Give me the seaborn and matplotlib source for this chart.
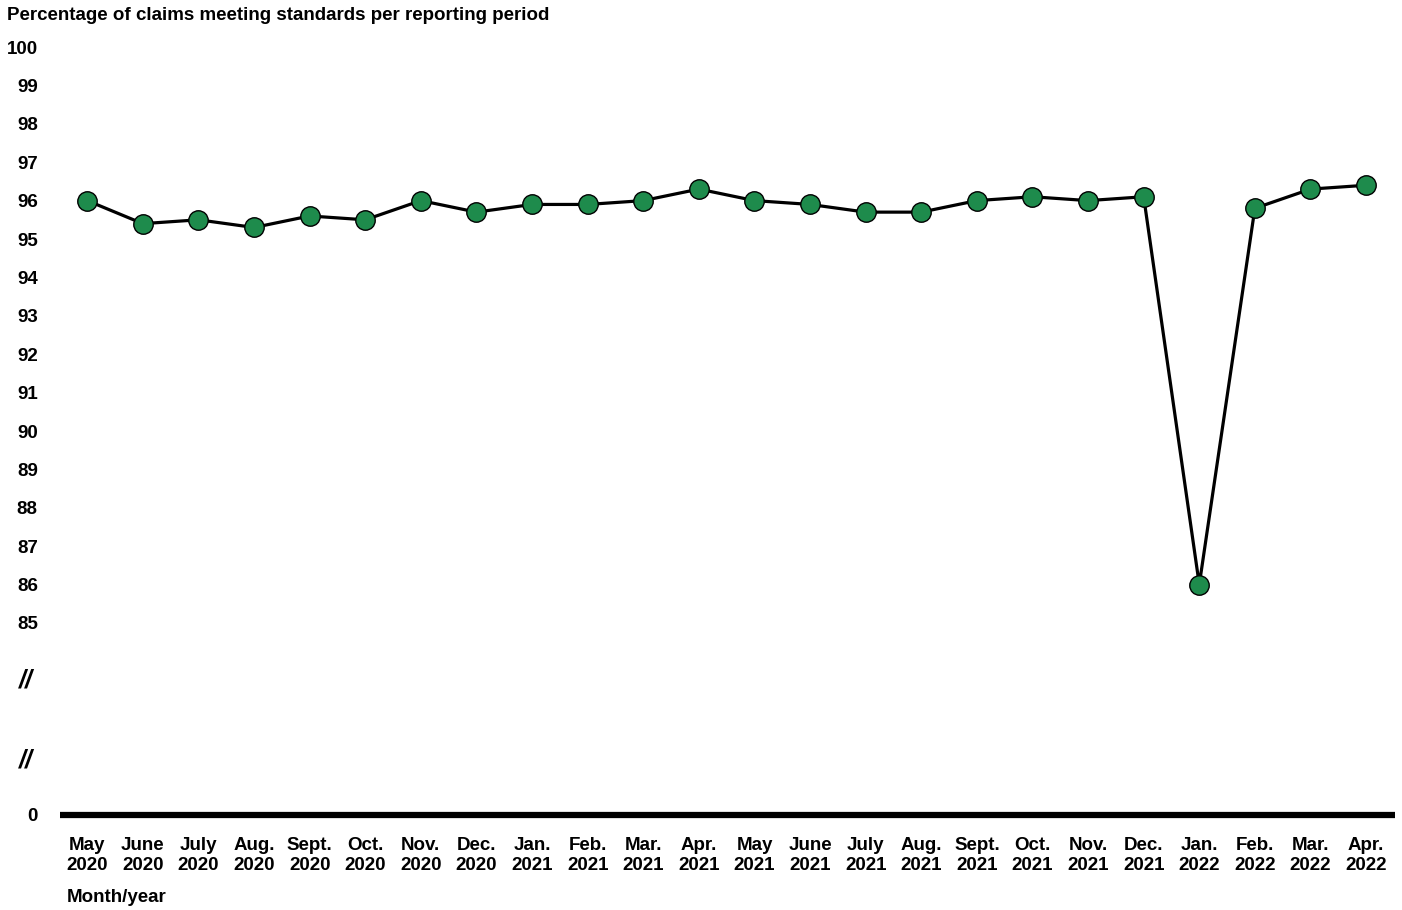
import matplotlib
matplotlib.use("Agg")
import matplotlib.pyplot as plt
import seaborn as sns
import pandas as pd
import numpy as np

months = ["May", "June", "July", "Aug.", "Sept.", "Oct.", "Nov.", "Dec.",
          "Jan.", "Feb.", "Mar.", "Apr.", "May", "June", "July", "Aug.",
          "Sept.", "Oct.", "Nov.", "Dec.", "Jan.", "Feb.", "Mar.", "Apr."]
years = ["2020"] * 8 + ["2021"] * 12 + ["2022"] * 4
pct_meeting = [96.0, 95.4, 95.5, 95.3, 95.6, 95.5, 96.0, 95.7,
               95.9, 95.9, 96.0, 96.3, 96.0, 95.9, 95.7, 95.7,
               96.0, 96.1, 96.0, 96.1, 86.0, 95.8, 96.3, 96.4]
y_ticks = list(range(85, 101))
zero_pos = 80  # broken axis: zero drawn five units below 85

sns.set_theme(style="white")
plt.rcParams["font.family"] = ["Liberation Sans", "DejaVu Sans"]
plt.rcParams["font.weight"] = "bold"
plt.rcParams["xtick.color"] = "black"
plt.rcParams["ytick.color"] = "black"
plt.rcParams["text.color"] = "black"

df = pd.DataFrame({"idx": np.arange(len(pct_meeting)), "pct": pct_meeting})

fig = plt.figure(figsize=(14.02, 9.10), dpi=100)
ax = fig.add_axes([60 / 1402, 0.1044, (1395 - 60) / 1402, 0.8566])

sns.lineplot(data=df, x="idx", y="pct", ax=ax, color="black", linewidth=2.3,
             marker="o", markersize=14, markerfacecolor="#1E8B4C",
             markeredgecolor="black", markeredgewidth=1.0)

ax.set_xlim(-0.49, len(pct_meeting) - 0.48)
ax.set_ylim(zero_pos, 100.3)

ax.set_yticks(y_ticks + [zero_pos])
ax.set_yticklabels([str(v) for v in y_ticks] + ["0"], fontsize=13.5,
                   fontweight="bold", color="black")
ax.set_xticks(df["idx"])
ax.set_xticklabels([f"{m}\n{y}" for m, y in zip(months, years)],
                   fontsize=13.5, fontweight="bold", linespacing=1.25, color="black")
ax.tick_params(axis="y", length=0, pad=16)
ax.tick_params(axis="x", length=0, pad=16)

for side in ["left", "right", "top"]:
    ax.spines[side].set_visible(False)
ax.spines["bottom"].set_color("black")
ax.spines["bottom"].set_linewidth(4.5)
ax.spines["bottom"].set_capstyle("butt")

ax.set_xlabel("")
ax.set_ylabel("")
ax.grid(False)

# axis break marks between 85 and 0
for ypos in (83.5, 81.43):
    ax.text(-0.02, ypos, "//", transform=ax.get_yaxis_transform(),
            ha="right", va="center", fontsize=18, fontweight="bold",
            fontstyle="italic", color="black")

fig.text(7 / 1402, 1 - 15 / 910, "Percentage of claims meeting standards per reporting period",
         ha="left", va="center", fontsize=13.5, fontweight="bold", color="black")
fig.text(67 / 1402, 1 - 897 / 910, "Month/year",
         ha="left", va="center", fontsize=13.5, fontweight="bold", color="black")

fig.savefig("out.png", dpi=100, facecolor="white")
